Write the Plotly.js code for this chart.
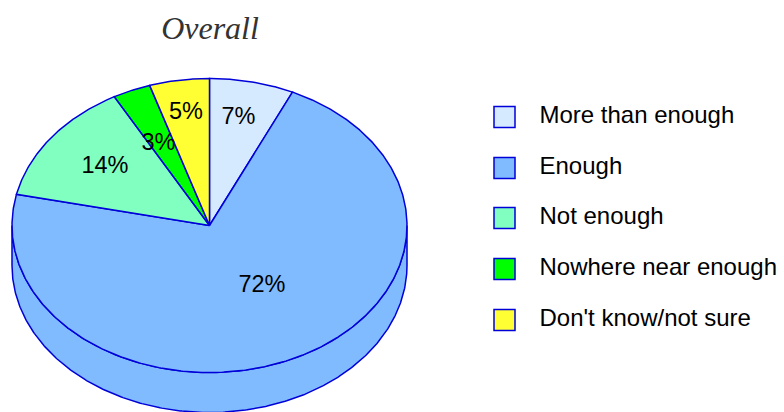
<!DOCTYPE html>
<html><head><meta charset="utf-8">
<script src="https://cdn.plot.ly/plotly-3.0.1.min.js"></script>
<style>html,body{margin:0;padding:0;background:#fff}#c{width:784px;height:412px}</style>
</head><body><div id="c"></div>
<script>
const categories = ["More than enough","Enough","Not enough","Nowhere near enough","Don't know/not sure"];
const values = [6.9, 71.5, 13.6, 3.1, 4.9];
const colors = ["#D6EAFF","#80BBFF","#80FFC0","#00FF00","#FFFF33"];
const labelX = [238.5, 262, 105, 158.5, 186];
const labelY = [118, 286, 167, 144, 113];
const legendY = [117, 168, 218, 269, 320];
const legendSwatchX = 504.5, legendTextX = 539.5;
const cx = 209.5, cy = 225.5, rx = 197.5, ry = 147, depth = 40;
const edge = "#0000D8";

function pt(deg, dy){ const a = deg*Math.PI/180; return [cx + rx*Math.sin(a), cy - ry*Math.cos(a) + (dy||0)]; }
function arc(a0, a1, dy){ const out=[]; const n=Math.max(2,Math.ceil((a1-a0)/0.5));
  for(let i=0;i<=n;i++) out.push(pt(a0+(a1-a0)*i/n, dy)); return out; }
function poly(points, fill){ const p = points.concat([points[0]]);
  return {type:'scatter',mode:'lines',x:p.map(d=>d[0]),y:p.map(d=>d[1]),fill:'toself',fillcolor:fill,
    line:{color:edge,width:1.5},hoverinfo:'skip',showlegend:false}; }

const total = values.reduce((a,b)=>a+b,0);
let acc = 0; const spans = values.map(v=>{const s=[acc/total*360,(acc+v)/total*360];acc+=v;return s;});
const traces = [];
// side wall: front half only
spans.forEach((s,i)=>{ const a0=Math.max(s[0],90), a1=Math.min(s[1],270);
  if(a1>a0) traces.push(poly(arc(a0,a1,0).concat(arc(a0,a1,depth).reverse()),colors[i])); });
// top face
spans.forEach((s,i)=>{ traces.push(poly([[cx,cy]].concat(arc(s[0],s[1],0)),colors[i])); });
// percent labels
traces.push({type:'scatter',mode:'text',x:labelX,y:labelY,text:values.map(v=>Math.round(v/total*100)+'%'),
  textposition:'middle center',textfont:{family:'Liberation Sans',size:23.5,color:'#000'},hoverinfo:'skip',showlegend:false});
// legend
traces.push({type:'scatter',mode:'markers',x:categories.map(()=>legendSwatchX),y:legendY,
  marker:{symbol:'square',size:21,color:colors,line:{color:edge,width:1.5}},hoverinfo:'skip',showlegend:false});
traces.push({type:'scatter',mode:'text',x:categories.map(()=>legendTextX),y:legendY,text:categories,
  textposition:'middle right',textfont:{family:'Liberation Sans',size:24,color:'#000'},hoverinfo:'skip',showlegend:false});

Plotly.newPlot('c',traces,{
  width:784,height:412,margin:{l:0,r:0,t:0,b:0},paper_bgcolor:'#fff',plot_bgcolor:'#fff',showlegend:false,
  title:{text:'Overall',x:210/784,xanchor:'center',y:1-28/412,yanchor:'middle',
    font:{family:'Liberation Serif',size:32,style:'italic',color:'#333'}},
  xaxis:{range:[0,784],visible:false,fixedrange:true},
  yaxis:{range:[412,0],visible:false,fixedrange:true}
},{displayModeBar:false,staticPlot:true});
</script></body></html>
